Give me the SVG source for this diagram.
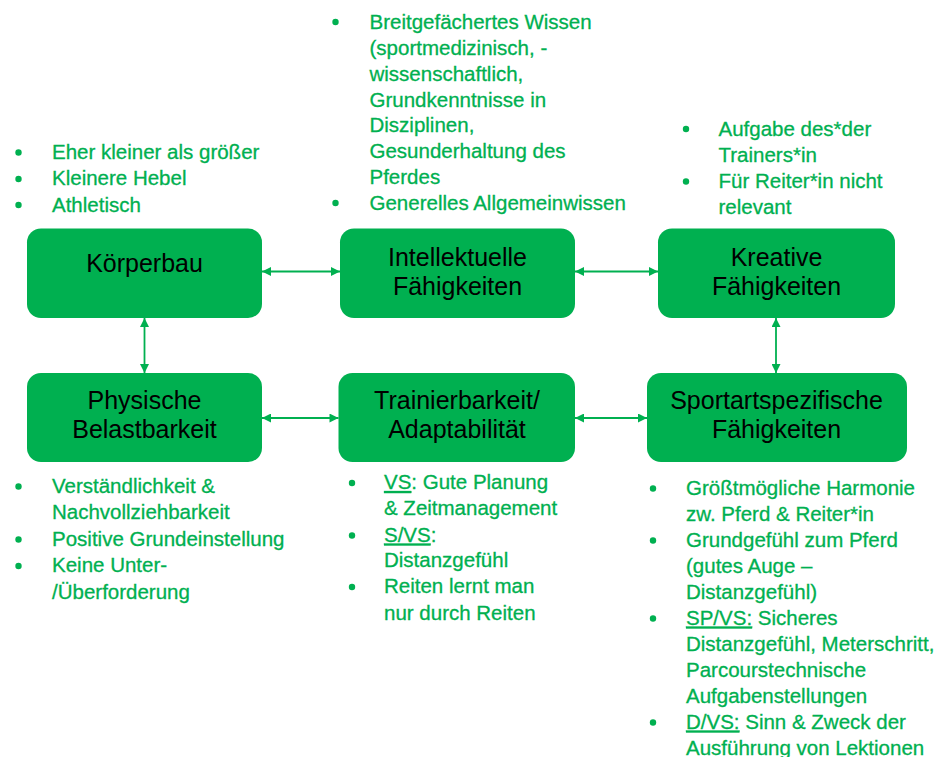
<svg xmlns="http://www.w3.org/2000/svg" width="942" height="757" viewBox="0 0 942 757">
  <defs>
    <style>
      .box { fill: #00B050; }
      .title { font-family: "Liberation Sans", Arial, sans-serif; font-size: 25px; fill: #000; text-anchor: middle; }
      .list { font-family: "Liberation Sans", Arial, sans-serif; font-size: 20.5px; fill: #00B050; stroke: #00B050; stroke-width: 0.3; }
      .dot { fill: #00B050; }
      .link { stroke: #00B050; stroke-width: 1.8; fill: none; marker-start: url(#tip); marker-end: url(#tip); }
      .u { text-decoration: underline; }
    </style>
    <marker id="tip" viewBox="0 0 10 10" refX="10" refY="5" markerWidth="10" markerHeight="9" markerUnits="userSpaceOnUse" orient="auto-start-reverse">
      <path d="M0,0 L10,5 L0,10 z" fill="#00B050"/>
    </marker>
  </defs>

  <rect width="942" height="757" fill="#ffffff"/>

  <!-- connectors -->
  <g id="connectors">
    <line class="link" x1="262" y1="271.5" x2="340" y2="271.5"/>
    <line class="link" x1="575" y1="271.5" x2="658" y2="271.5"/>
    <line class="link" x1="144.5" y1="318" x2="144.5" y2="373"/>
    <line class="link" x1="776" y1="318" x2="776" y2="373"/>
    <line class="link" x1="262" y1="418" x2="338.5" y2="418"/>
    <line class="link" x1="575" y1="418" x2="647" y2="418"/>
  </g>

  <!-- Körperbau -->
  <g id="koerperbau">
    <rect class="box" x="27" y="228.5" width="235" height="89.5" rx="14"/>
    <text class="title" x="144.5" y="272">Körperbau</text>
    <circle class="dot" cx="18.5" cy="152.5" r="3.2"/>
    <circle class="dot" cx="18.5" cy="179" r="3.2"/>
    <circle class="dot" cx="18.5" cy="205" r="3.2"/>
    <text class="list" x="52" y="158.5">Eher kleiner als größer</text>
    <text class="list" x="52" y="185">Kleinere Hebel</text>
    <text class="list" x="52" y="211.5">Athletisch</text>
  </g>

  <!-- Intellektuelle Fähigkeiten -->
  <g id="intellektuelle">
    <rect class="box" x="340" y="228.5" width="235" height="89.5" rx="14"/>
    <text class="title" x="457.5" y="265.5">Intellektuelle</text>
    <text class="title" x="457.5" y="294.5">Fähigkeiten</text>
    <circle class="dot" cx="335.5" cy="22" r="3.2"/>
    <circle class="dot" cx="335.5" cy="203" r="3.2"/>
    <text class="list" x="369.5" y="28.5">Breitgefächertes Wissen</text>
    <text class="list" x="369.5" y="54.5">(sportmedizinisch, -</text>
    <text class="list" x="369.5" y="80.5">wissenschaftlich,</text>
    <text class="list" x="369.5" y="106.5">Grundkenntnisse in</text>
    <text class="list" x="369.5" y="132">Disziplinen,</text>
    <text class="list" x="369.5" y="158">Gesunderhaltung des</text>
    <text class="list" x="369.5" y="183.5">Pferdes</text>
    <text class="list" x="369.5" y="209.5">Generelles Allgemeinwissen</text>
  </g>

  <!-- Kreative Fähigkeiten -->
  <g id="kreative">
    <rect class="box" x="658" y="228.5" width="237" height="89.5" rx="14"/>
    <text class="title" x="776.5" y="265.5">Kreative</text>
    <text class="title" x="776.5" y="294.5">Fähigkeiten</text>
    <circle class="dot" cx="686" cy="129" r="3.2"/>
    <circle class="dot" cx="686" cy="181.5" r="3.2"/>
    <text class="list" x="718.5" y="135.5">Aufgabe des*der</text>
    <text class="list" x="718.5" y="161.5">Trainers*in</text>
    <text class="list" x="718.5" y="187.5">Für Reiter*in nicht</text>
    <text class="list" x="718.5" y="213.5">relevant</text>
  </g>

  <!-- Physische Belastbarkeit -->
  <g id="physische">
    <rect class="box" x="27" y="373" width="235" height="89" rx="14"/>
    <text class="title" x="144.5" y="408.5">Physische</text>
    <text class="title" x="144.5" y="437.5">Belastbarkeit</text>
    <circle class="dot" cx="18.5" cy="486.5" r="3.2"/>
    <circle class="dot" cx="18.5" cy="539.5" r="3.2"/>
    <circle class="dot" cx="18.5" cy="566" r="3.2"/>
    <text class="list" x="52" y="492.5">Verständlichkeit &amp;</text>
    <text class="list" x="52" y="519">Nachvollziehbarkeit</text>
    <text class="list" x="52" y="545.5">Positive Grundeinstellung</text>
    <text class="list" x="52" y="572">Keine Unter-</text>
    <text class="list" x="52" y="598.5">/Überforderung</text>
  </g>

  <!-- Trainierbarkeit/Adaptabilität -->
  <g id="trainierbarkeit">
    <rect class="box" x="338.5" y="373" width="236.5" height="89" rx="14"/>
    <text class="title" x="457" y="408.5">Trainierbarkeit/</text>
    <text class="title" x="457" y="437.5">Adaptabilität</text>
    <circle class="dot" cx="352" cy="483" r="3.2"/>
    <circle class="dot" cx="352" cy="535.5" r="3.2"/>
    <circle class="dot" cx="352" cy="587" r="3.2"/>
    <text class="list" x="384" y="489"><tspan class="u">VS</tspan>: Gute Planung</text>
    <text class="list" x="384" y="515">&amp; Zeitmanagement</text>
    <text class="list" x="384" y="541.5"><tspan class="u">S/VS</tspan>:</text>
    <text class="list" x="384" y="567">Distanzgefühl</text>
    <text class="list" x="384" y="593">Reiten lernt man</text>
    <text class="list" x="384" y="619.5">nur durch Reiten</text>
  </g>

  <!-- Sportartspezifische Fähigkeiten -->
  <g id="sportartspezifische">
    <rect class="box" x="647" y="373" width="260" height="89" rx="14"/>
    <text class="title" x="776.5" y="408.5">Sportartspezifische</text>
    <text class="title" x="776.5" y="437.5">Fähigkeiten</text>
    <circle class="dot" cx="653" cy="488.5" r="3.2"/>
    <circle class="dot" cx="653" cy="540.5" r="3.2"/>
    <circle class="dot" cx="653" cy="618.5" r="3.2"/>
    <circle class="dot" cx="653" cy="722.5" r="3.2"/>
    <text class="list" x="686" y="494.5">Größtmögliche Harmonie</text>
    <text class="list" x="686" y="520.5">zw. Pferd &amp; Reiter*in</text>
    <text class="list" x="686" y="546.5">Grundgefühl zum Pferd</text>
    <text class="list" x="686" y="572.5">(gutes Auge –</text>
    <text class="list" x="686" y="598.5">Distanzgefühl)</text>
    <text class="list" x="686" y="624.5"><tspan class="u">SP/VS:</tspan> Sicheres</text>
    <text class="list" x="686" y="650.5">Distanzgefühl, Meterschritt,</text>
    <text class="list" x="686" y="676.5">Parcourstechnische</text>
    <text class="list" x="686" y="702.5">Aufgabenstellungen</text>
    <text class="list" x="686" y="728.5"><tspan class="u">D/VS:</tspan> Sinn &amp; Zweck der</text>
    <text class="list" x="686" y="754.5">Ausführung von Lektionen</text>
  </g>
</svg>
